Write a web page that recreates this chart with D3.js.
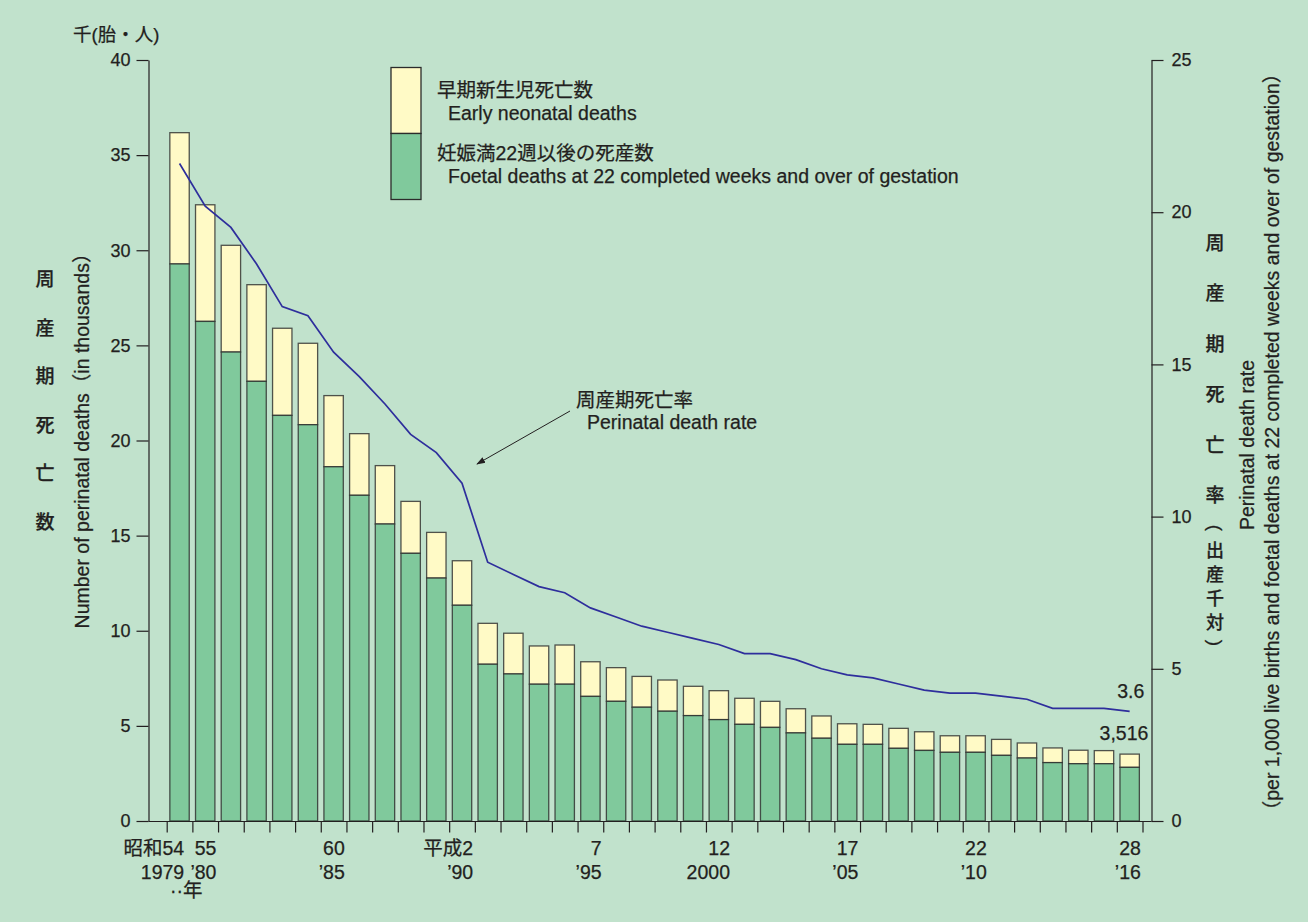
<!DOCTYPE html>
<html><head><meta charset="utf-8">
<script src="https://cdn.jsdelivr.net/npm/d3@7"></script>
<style>
html,body{margin:0;padding:0;background:#c1e2cc;}
svg{display:block;font-family:"Liberation Sans",Arial,"Noto Sans CJK JP",sans-serif;}
text{fill:#231f20;stroke:#231f20;stroke-width:0.25px;}
</style></head><body>
<svg id="c" width="1308" height="922"></svg>
<script>
// ---- data ----
const years = [1979,1980,1981,1982,1983,1984,1985,1986,1987,1988,1989,1990,1991,1992,1993,1994,1995,1996,1997,1998,1999,2000,2001,2002,2003,2004,2005,2006,2007,2008,2009,2010,2011,2012,2013,2014,2015,2016];
// Foetal deaths at 22 completed weeks and over (thousands)
const foetalDeaths = [29.28,26.26,24.65,23.11,21.32,20.83,18.62,17.12,15.61,14.07,12.77,11.34,8.24,7.73,7.19,7.19,6.55,6.29,5.98,5.77,5.54,5.33,5.08,4.92,4.63,4.35,4.03,4.03,3.82,3.71,3.61,3.61,3.45,3.31,3.07,3.01,3.01,2.82];
// Early neonatal deaths (thousands)
const earlyNeonatal = [6.90,6.13,5.61,5.08,4.58,4.28,3.74,3.24,3.07,2.73,2.40,2.34,2.15,2.14,2.01,2.06,1.82,1.77,1.62,1.64,1.54,1.52,1.37,1.37,1.27,1.17,1.08,1.05,1.05,0.98,0.87,0.87,0.84,0.79,0.77,0.71,0.69,0.696];
// Perinatal death rate (per 1,000)
const perinatalRate = [21.6,20.2,19.5,18.3,16.9,16.6,15.4,14.6,13.7,12.7,12.1,11.1,8.5,8.1,7.7,7.5,7.0,6.7,6.4,6.2,6.0,5.8,5.5,5.5,5.3,5.0,4.8,4.7,4.5,4.3,4.2,4.2,4.1,4.0,3.7,3.7,3.7,3.6];
const labelYears = [1979,1980,1985,1990,1995,2000,2005,2010,2016];
const labelEra = ["昭和54","55","60","平成2","7","12","17","22","28"];
const labelWestern = ["1979","’80","’85","’90","’95","2000","’05","’10","’16"];
const leftTicks = [0,5,10,15,20,25,30,35,40];
const rightTicks = [0,5,10,15,20,25];

// ---- layout ----
const svg = d3.select("#c");
const yL = d3.scaleLinear().domain([0,40]).range([821,60]);
const yR = d3.scaleLinear().domain([0,25]).range([821,60]);
const x = d3.scaleBand().domain(years).range([166.7,1142.5]).paddingInner(0.245).paddingOuter(0.1225);
const xb = d3.scaleLinear().domain([0, years.length]).range([166.7,1142.5]);
const axisLeftX = 148.5, axisRightX = 1151.5;
const cYellow = "#fffac6", cGreen = "#80c99c", cStroke = "#2b2b2b";
const FS = 19.5;

// bars
const data = years.map((yr,i)=>({yr, f:foetalDeaths[i], e:earlyNeonatal[i], r:perinatalRate[i]}));
const bars = svg.append("g");
bars.selectAll("rect.e").data(data).join("rect")
  .attr("x", d=>x(d.yr)).attr("width", x.bandwidth())
  .attr("y", d=>yL(d.f+d.e)).attr("height", d=>yL(d.f)-yL(d.f+d.e))
  .attr("fill", cYellow).attr("stroke", cStroke).attr("stroke-width",1.3).attr("stroke-opacity",0.8);
bars.selectAll("rect.f").data(data).join("rect")
  .attr("x", d=>x(d.yr)).attr("width", x.bandwidth())
  .attr("y", d=>yL(d.f)).attr("height", d=>yL(0)-yL(d.f))
  .attr("fill", cGreen).attr("stroke", cStroke).attr("stroke-width",1.3).attr("stroke-opacity",0.8);

// rate line
svg.append("path").datum(data)
  .attr("fill","none").attr("stroke","#2e2e9c").attr("stroke-width",1.7)
  .attr("d", d3.line().x(d=>x(d.yr)+x.bandwidth()/2).y(d=>yR(d.r)));

// left axis
const gl = svg.append("g").attr("transform",`translate(${axisLeftX},0)`)
  .call(d3.axisLeft(yL).tickValues(leftTicks).tickSize(12).tickSizeOuter(0).tickPadding(6));
gl.selectAll("text").attr("font-size",18).attr("fill","#231f20");
// right axis
const gr = svg.append("g").attr("transform",`translate(${axisRightX},0)`)
  .call(d3.axisRight(yR).tickValues(rightTicks).tickSize(12).tickSizeOuter(0).tickPadding(8));
gr.selectAll("text").attr("font-size",18).attr("fill","#231f20");
// bottom axis (band boundary ticks)
const gb = svg.append("g").attr("transform","translate(0,821.5)")
  .call(d3.axisBottom(xb).tickValues(d3.range(years.length+1)).tickSize(11).tickFormat(""));
gb.select(".domain").remove();
svg.append("line").attr("x1",axisLeftX).attr("x2",axisRightX).attr("y1",821.5).attr("y2",821.5)
  .attr("stroke","#231f20").attr("stroke-width",1.2);
svg.selectAll(".domain, .tick line").attr("stroke","#231f20").attr("stroke-width",1.2);
svg.selectAll(".tick text").style("stroke","#231f20");

// x labels
labelYears.forEach((yr,i)=>{
  const xr = x(yr)+x.bandwidth() + (i===0 ? -5 : 1.5);
  svg.append("text").attr("x",xr).attr("y",855).attr("text-anchor","end").attr("font-size",FS).text(labelEra[i]);
  svg.append("text").attr("x",xr).attr("y",878.5).attr("text-anchor","end").attr("font-size",FS).text(labelWestern[i]);
});
svg.append("text").attr("x",x(1979)+x.bandwidth()-3).attr("y",897).attr("text-anchor","middle").attr("font-size",FS).text("··年");

// unit
svg.append("text").attr("x",73).attr("y",41).attr("font-size",18.5).text("千(胎・人)");

// left titles
["周","産","期","死","亡","数"].forEach((c,i)=>{
  svg.append("text").attr("x",45).attr("y",286+i*48.6).attr("text-anchor","middle").attr("font-size",19).attr("font-weight",500).text(c);
});
svg.append("text").attr("transform","translate(89,436) rotate(-90)").attr("text-anchor","middle")
  .attr("font-size",FS).text("Number of perinatal deaths（in thousands）");

// right titles
["周","産","期","死","亡","率"].forEach((c,i)=>{
  svg.append("text").attr("x",1215).attr("y",250+i*50.4).attr("text-anchor","middle").attr("font-size",19).attr("font-weight",500).text(c);
});
["出","産","千","対"].forEach((c,i)=>{
  svg.append("text").attr("x",1215).attr("y",557+i*24).attr("text-anchor","middle").attr("font-size",18).attr("font-weight",500).text(c);
});
[["(",528],[")",643]].forEach(([c,yc])=>{
  svg.append("text").attr("transform",`translate(1215,${yc}) rotate(90)`).attr("text-anchor","middle")
    .attr("dominant-baseline","central").attr("font-size",19).text(c);
});
svg.append("text").attr("transform","translate(1254,445) rotate(-90)").attr("text-anchor","middle")
  .attr("font-size",FS).text("Perinatal death rate");
svg.append("text").attr("transform","translate(1279,442) rotate(-90)").attr("text-anchor","middle")
  .attr("font-size",FS).text("（per 1,000 live births and foetal deaths at 22 completed weeks and over of gestation）");

// legend
const lg = svg.append("g");
lg.append("rect").attr("x",391).attr("y",67.5).attr("width",30).attr("height",66).attr("fill",cYellow).attr("stroke",cStroke).attr("stroke-width",1.3);
lg.append("rect").attr("x",391).attr("y",133.5).attr("width",30).attr("height",66).attr("fill",cGreen).attr("stroke",cStroke).attr("stroke-width",1.3);
lg.append("text").attr("x",437).attr("y",97).attr("font-size",FS).text("早期新生児死亡数");
lg.append("text").attr("x",448).attr("y",119.5).attr("font-size",FS).text("Early neonatal deaths");
lg.append("text").attr("x",437).attr("y",160).attr("font-size",FS).text("妊娠満22週以後の死産数");
lg.append("text").attr("x",448).attr("y",183).attr("font-size",FS).text("Foetal deaths at 22 completed weeks and over of gestation");

// annotation
svg.append("defs").append("marker").attr("id","ah").attr("viewBox","0 0 10 10").attr("refX",9).attr("refY",5)
  .attr("markerWidth",9).attr("markerHeight",9).attr("orient","auto").attr("markerUnits","userSpaceOnUse")
  .append("path").attr("d","M0,1.5 L10,5 L0,8.5 Z").attr("fill","#231f20");
svg.append("line").attr("x1",570).attr("y1",411).attr("x2",477).attr("y2",464)
  .attr("stroke","#231f20").attr("stroke-width",1).attr("marker-end","url(#ah)");
svg.append("text").attr("x",576).attr("y",407).attr("font-size",FS).text("周産期死亡率");
svg.append("text").attr("x",587).attr("y",428.5).attr("font-size",FS).text("Perinatal death rate");

// end value labels
const last = data[data.length-1];
svg.append("text").attr("x",x(last.yr)+x.bandwidth()+5).attr("y",yR(last.r)-13).attr("text-anchor","end").attr("font-size",FS).text(d3.format(".1f")(last.r));
svg.append("text").attr("x",x(last.yr)+x.bandwidth()+9).attr("y",yL(last.f+last.e)-14).attr("text-anchor","end").attr("font-size",FS).text(d3.format(",")(Math.round((last.f+last.e)*1000)));
</script>
</body></html>
